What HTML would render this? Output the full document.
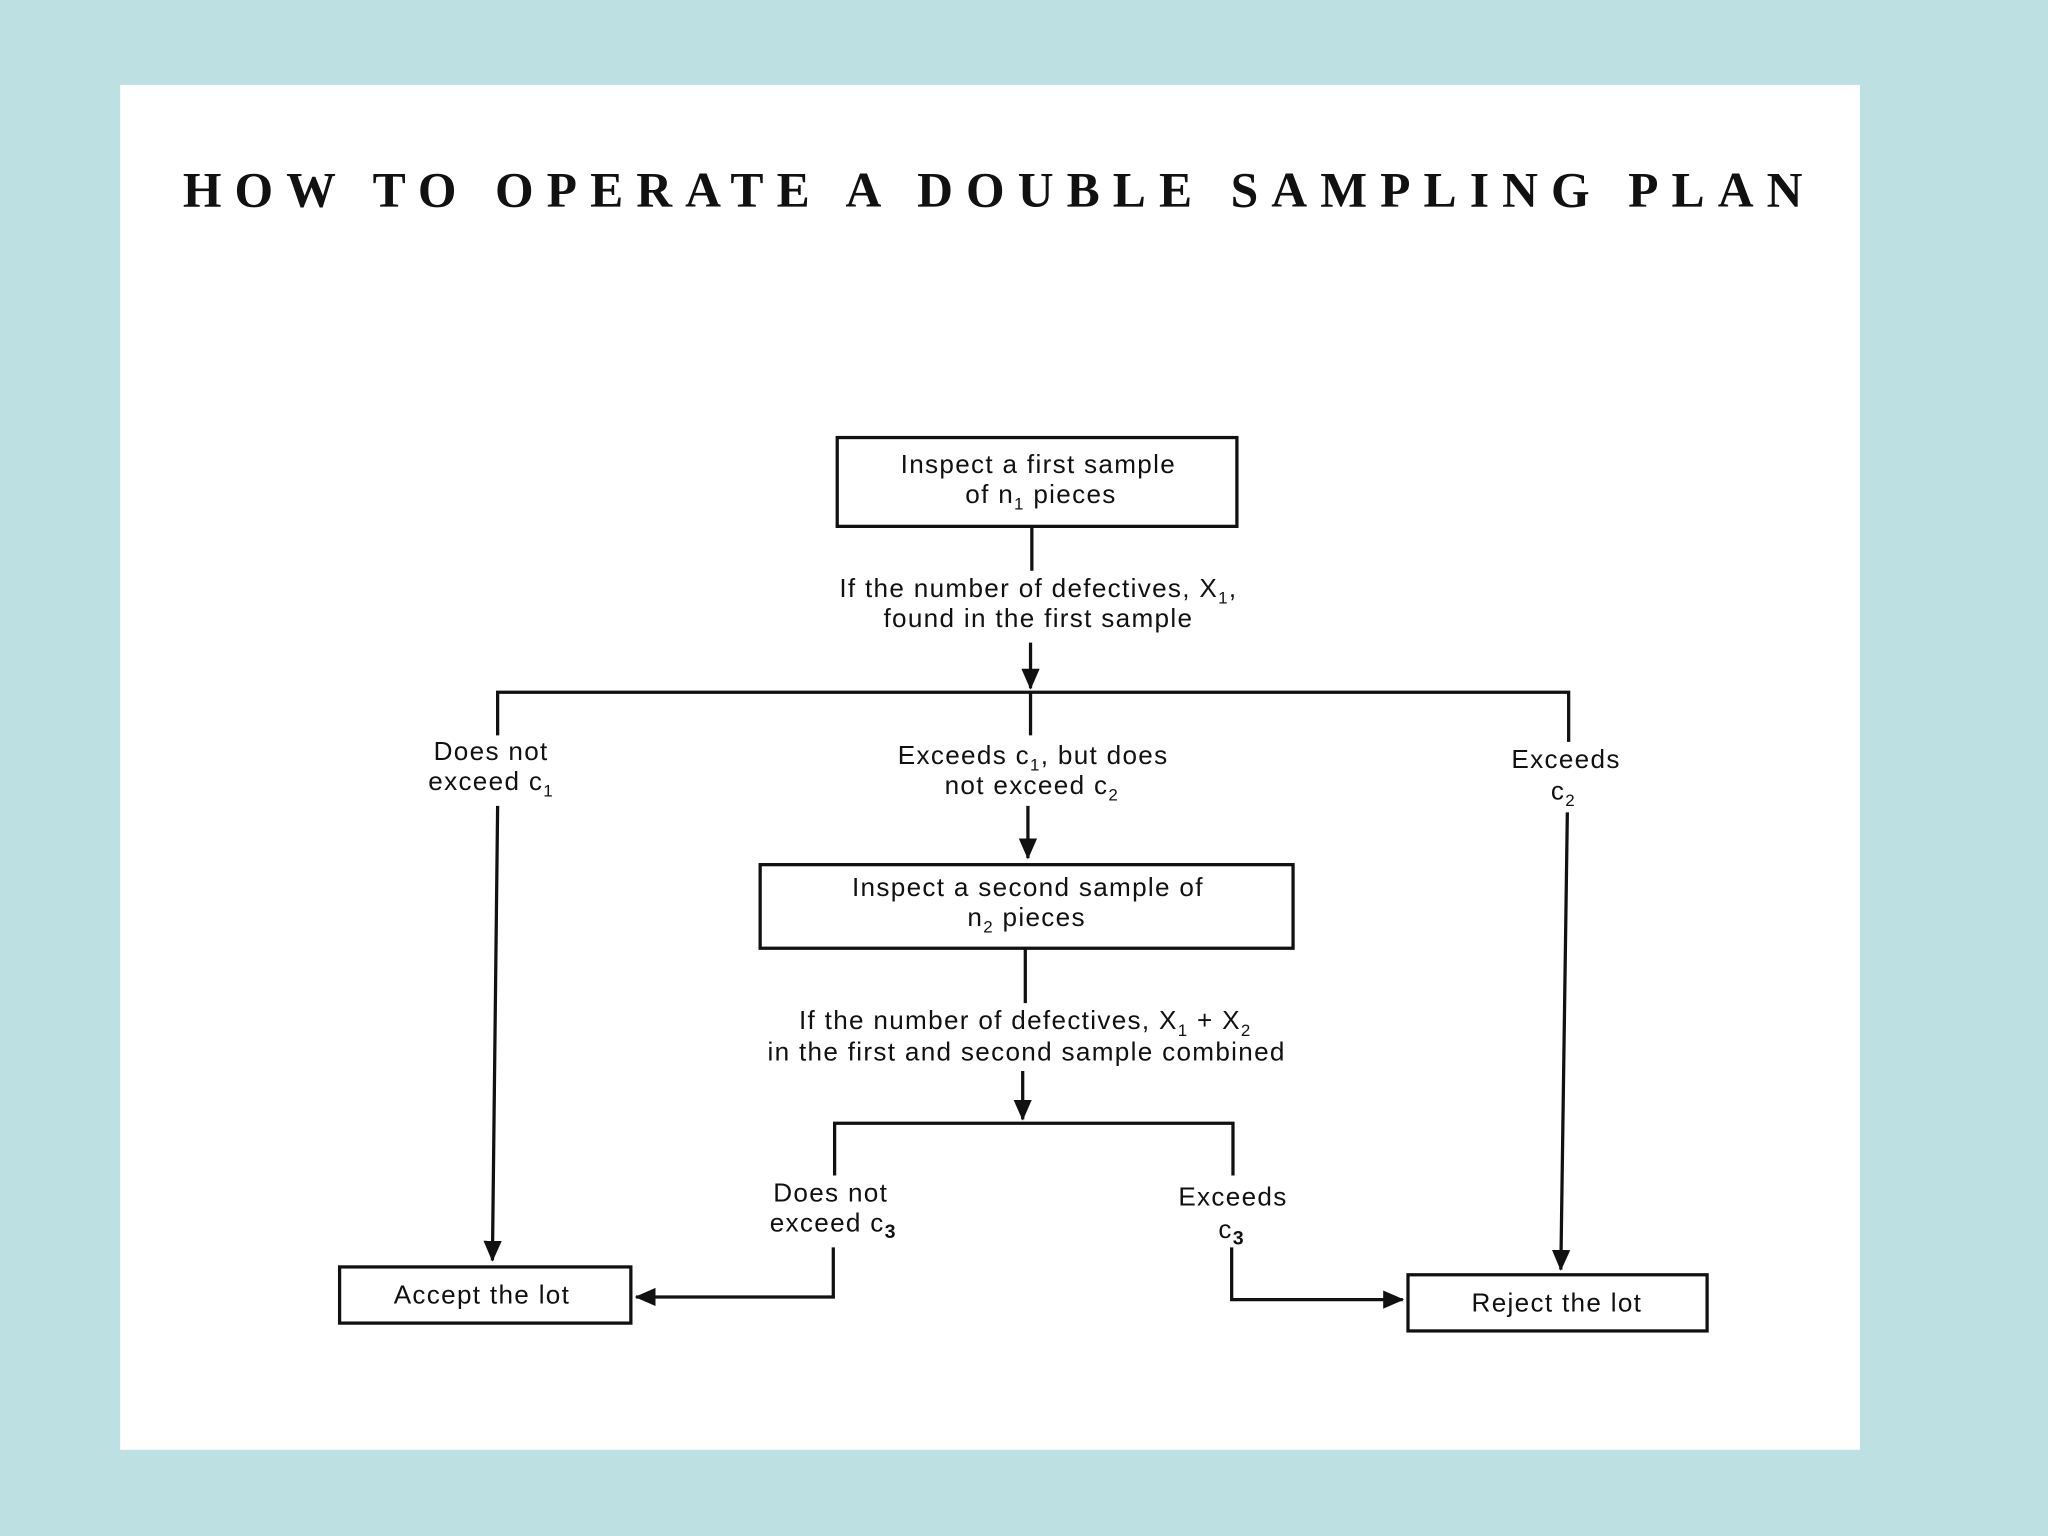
<!DOCTYPE html>
<html><head><meta charset="utf-8"><style>
html,body{margin:0;padding:0;background:#bde0e3;}
svg{display:block}
text{font-family:"Liberation Sans","DejaVu Sans",sans-serif;font-size:20px;fill:#111;text-anchor:middle;letter-spacing:1px}
</style></head><body>
<svg width="2048" height="1536" viewBox="0 0 1568 1176" xmlns="http://www.w3.org/2000/svg">
<defs><marker id="a" markerWidth="10" markerHeight="10" refX="9" refY="5" orient="auto" markerUnits="userSpaceOnUse"><path d="M0,0 L10,5 L0,10 z" fill="#111"/></marker>
<marker id="b" markerWidth="16" markerHeight="16" refX="15" refY="8" orient="auto" markerUnits="userSpaceOnUse"><path d="M0,1 L16,8 L0,15 z" fill="#111"/></marker></defs>
<rect x="0" y="0" width="1568" height="1176" fill="#bde0e3"/>
<rect x="92" y="65" width="1332" height="1045" fill="#fff"/>
<text x="760" y="158" style="font-family:'Liberation Serif',serif;font-weight:bold;font-size:38px;letter-spacing:0" textLength="1240">HOW TO OPERATE A DOUBLE SAMPLING PLAN</text>
<g stroke="#111" stroke-width="2.5" fill="none">
<rect x="641" y="335" width="306" height="68"/>
<rect x="582" y="662" width="408" height="64"/>
<rect x="260" y="970" width="223" height="43"/>
<rect x="1078" y="976" width="229" height="43"/>
<line x1="790" y1="403" x2="790" y2="437"/>
<line x1="789" y1="492" x2="789" y2="527" marker-end="url(#b)"/>
<polyline points="381,563 381,530 1201,530 1201,568"/>
<line x1="789" y1="530" x2="789" y2="563"/>
<line x1="381" y1="617" x2="377" y2="965" marker-end="url(#b)"/>
<line x1="787" y1="617" x2="787" y2="657" marker-end="url(#b)"/>
<line x1="1200" y1="622" x2="1195" y2="972" marker-end="url(#b)"/>
<line x1="785" y1="726" x2="785" y2="768"/>
<line x1="783" y1="820" x2="783" y2="857" marker-end="url(#b)"/>
<polyline points="639,900 639,860 944,860 944,900"/>
<polyline points="638,955 638,993 487,993" marker-end="url(#b)"/>
<polyline points="943,955 943,995 1074,995" marker-end="url(#b)"/>
</g>
<text x="795" y="362">Inspect a first sample</text>
<text x="797" y="385">of n<tspan font-size="13" dy="5">1</tspan><tspan dy="-5"> pieces</tspan></text>
<text x="795" y="457">If the number of defectives, X<tspan font-size="13" dy="5">1</tspan><tspan dy="-5">,</tspan></text>
<text x="795" y="480">found in the first sample</text>
<text x="376" y="582">Does not</text>
<text x="376" y="605">exceed c<tspan font-size="13" dy="5">1</tspan></text>
<text x="791" y="585">Exceeds c<tspan font-size="13" dy="5">1</tspan><tspan dy="-5">, but does</tspan></text>
<text x="790" y="608">not exceed c<tspan font-size="13" dy="5">2</tspan></text>
<text x="1199" y="588">Exceeds</text>
<text x="1197" y="612">c<tspan font-size="13" dy="5">2</tspan></text>
<text x="787" y="686">Inspect a second sample of</text>
<text x="786" y="709">n<tspan font-size="13" dy="5">2</tspan><tspan dy="-5"> pieces</tspan></text>
<text x="785" y="788">If the number of defectives, X<tspan font-size="13" dy="5">1</tspan><tspan dy="-5"> + X</tspan><tspan font-size="13" dy="5">2</tspan></text>
<text x="786" y="812">in the first and second sample combined</text>
<text x="636" y="920">Does not</text>
<text x="638" y="943">exceed c<tspan font-size="15" dy="5" font-weight="bold">3</tspan></text>
<text x="944" y="923">Exceeds</text>
<text x="943" y="948">c<tspan font-size="15" dy="5" font-weight="bold">3</tspan></text>
<text x="369" y="998">Accept the lot</text>
<text x="1192" y="1004">Reject the lot</text>
</svg>
</body></html>
